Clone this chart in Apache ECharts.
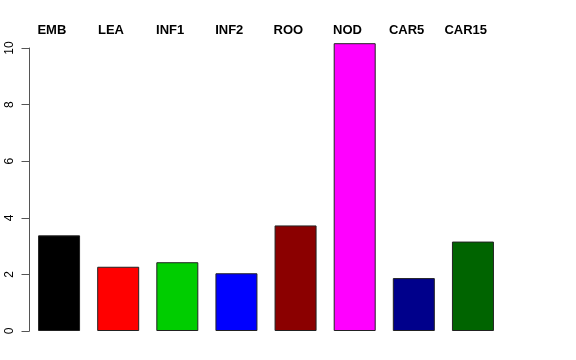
<!DOCTYPE html>
<html>
<head>
<meta charset="utf-8">
<script src="https://cdn.jsdelivr.net/npm/echarts@6/dist/echarts.min.js"></script>
<style>html,body{margin:0;padding:0;background:#fff}#c{width:576px;height:360px}</style>
</head>
<body>
<div id="c"></div>
<script>
var categories = ['EMB', 'LEA', 'INF1', 'INF2', 'ROO', 'NOD', 'CAR5', 'CAR15'];
var values = [3.38, 2.27, 2.43, 2.04, 3.73, 10.17, 1.87, 3.16];
var colors = ['#000000', '#FF0000', '#00CD00', '#0000FF', '#8B0000', '#FF00FF', '#00008B', '#006400'];
var yTicks = [0, 2, 4, 6, 8, 10];

var chart = echarts.init(document.getElementById('c'), null, {renderer: 'canvas'});
var font = 'Liberation Sans, Arial, Helvetica, sans-serif';
chart.setOption({
  animation: false,
  backgroundColor: '#ffffff',
  grid: [
    {left: 29.5, right: 73.5, top: 48, bottom: 29},
    {left: 22.3, right: 80.7, top: 40, bottom: 29}
  ],
  xAxis: [
    {type: 'category', gridIndex: 0, data: categories, boundaryGap: true,
      axisLine: {show: false}, axisTick: {show: false}, axisLabel: {show: false}, splitLine: {show: false}},
    {type: 'category', gridIndex: 1, position: 'top', data: categories, boundaryGap: true,
      axisLine: {show: false}, axisTick: {show: false}, splitLine: {show: false},
      axisLabel: {show: true, interval: 0, margin: 3, fontFamily: font, fontWeight: 'bold', fontSize: 13, color: '#000'}}
  ],
  yAxis: [
    {type: 'value', gridIndex: 0, min: yTicks[0], max: yTicks[yTicks.length - 1], interval: 2,
      axisLine: {show: true, lineStyle: {color: '#555', width: 1}},
      axisTick: {show: true, length: 8, lineStyle: {color: '#555', width: 1}},
      splitLine: {show: false},
      axisLabel: {show: true, rotate: 90, margin: 14, fontFamily: font, fontSize: 12, color: '#000'}},
    {type: 'value', gridIndex: 1, show: false, min: 0, max: 10}
  ],
  series: [{
    type: 'bar', xAxisIndex: 0, yAxisIndex: 0, clip: false,
    barWidth: 42,
    data: values.map(function (v, i) {
      return {value: v, itemStyle: {color: colors[i]}};
    }),
    itemStyle: {borderColor: '#222', borderWidth: 1}
  }]
});
</script>
</body>
</html>
